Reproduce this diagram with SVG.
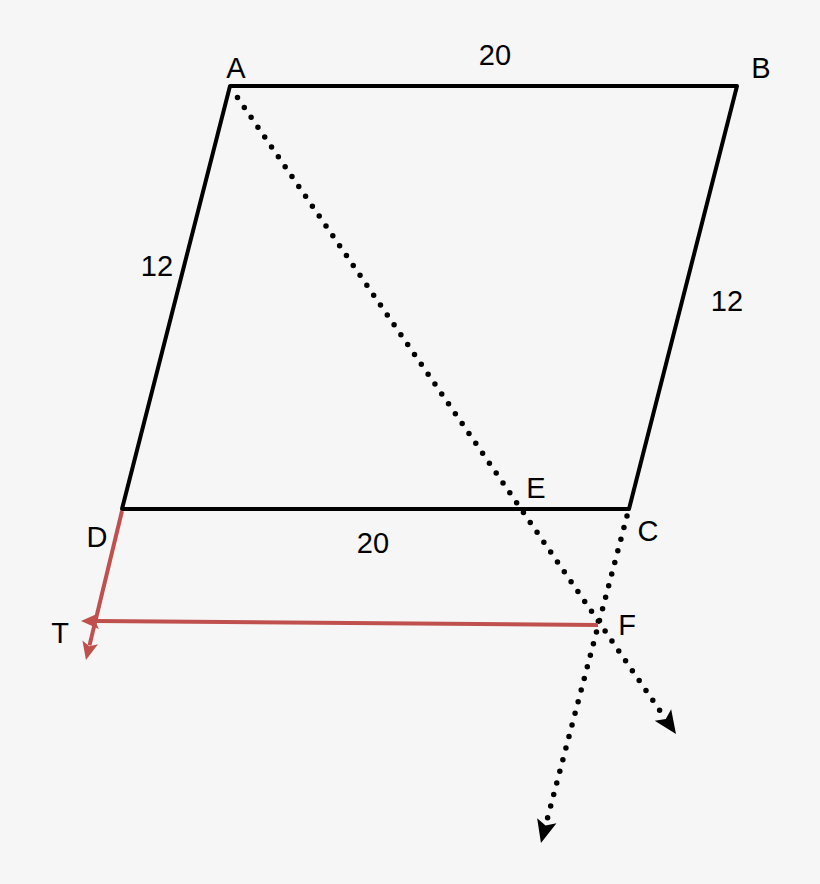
<svg xmlns="http://www.w3.org/2000/svg" width="820" height="884" viewBox="0 0 820 884">
<defs>
<style>
.lbl{font-family:"Liberation Sans","Open Sans",sans-serif;font-size:29px;fill:#000;text-anchor:middle}
.edge{stroke:#000;stroke-width:4;fill:none;stroke-linejoin:round}
.dot{stroke:#000;stroke-width:5.5;fill:none;stroke-linecap:round;stroke-dasharray:0 12}
.red{stroke:#C0504D;stroke-width:4;fill:none}
</style>
<marker id="ak" markerUnits="userSpaceOnUse" markerWidth="24" markerHeight="24" viewBox="0 0 24 24" refX="4" refY="12" orient="auto" overflow="visible"><path d="M0,2 L23,12 L0,22 L5,12 Z" fill="#000"/></marker>
<marker id="ar" markerUnits="userSpaceOnUse" markerWidth="20" markerHeight="20" viewBox="0 0 20 20" refX="3" refY="10" orient="auto" overflow="visible"><path d="M0,2 L18,10 L0,18 L4,10 Z" fill="#C0504D"/></marker>
</defs>
<rect width="820" height="884" fill="#f6f6f6"/>
<g id="parallelogram"><path class="edge" d="M230,86 L737,86 L629,509 L122,509 Z"/></g>
<g id="connectors">
<path class="dot" d="M237.5,97.5 L665.2,718.3" marker-end="url(#ak)"/>
<path class="dot" d="M627,516 L545.8,824.6" marker-end="url(#ak)"/>
<path class="red" d="M122,511 L89.5,645.4" marker-end="url(#ar)"/>
<path class="red" d="M598,625 L96,621" marker-end="url(#ar)"/>
</g>
<g id="labels">
<text class="lbl" x="236" y="78">A</text>
<text class="lbl" x="495" y="65">20</text>
<text class="lbl" x="761" y="78">B</text>
<text class="lbl" x="157" y="276">12</text>
<text class="lbl" x="727" y="311">12</text>
<text class="lbl" x="536" y="498">E</text>
<text class="lbl" x="97" y="547">D</text>
<text class="lbl" x="373" y="553">20</text>
<text class="lbl" x="648" y="541">C</text>
<text class="lbl" x="60" y="643">T</text>
<text class="lbl" x="627" y="635">F</text>
</g>
</svg>
